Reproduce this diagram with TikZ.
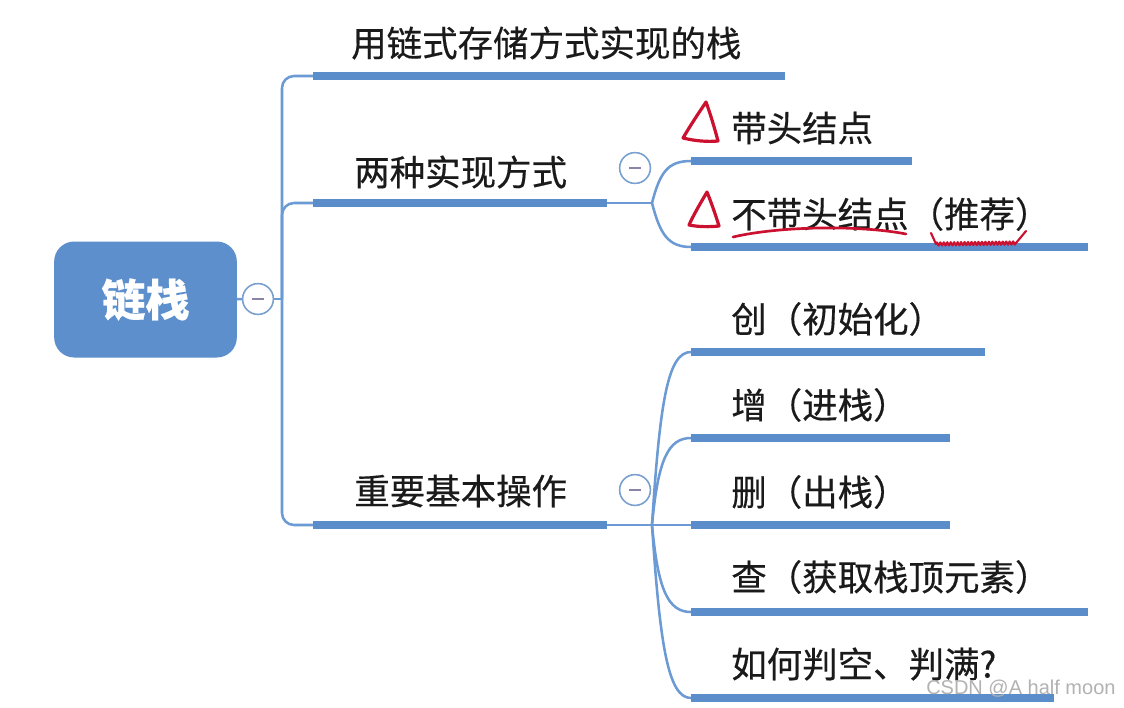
\documentclass[tikz,border=0pt]{standalone}
\usepackage{fontspec}
\setmainfont{Noto Sans CJK SC}[FakeBold=0.4]
\newfontfamily\marksans{Liberation Sans}
\usetikzlibrary{decorations.pathmorphing}

\definecolor{barblue}{RGB}{91,141,203}
\definecolor{lineblue}{RGB}{108,154,212}
\definecolor{rootblue}{RGB}{92,143,204}
\definecolor{knobline}{RGB}{122,160,208}
\definecolor{knobminus}{RGB}{140,132,168}
\definecolor{redink}{RGB}{204,16,48}
\definecolor{inktext}{RGB}{26,26,26}

\tikzset{
  rootbox/.style={fill=rootblue, rounded corners=15pt, minimum width=137pt,
    minimum height=87pt, text=white, font=\fontsize{33}{33}\selectfont\bfseries},
  topic/.style={anchor=west, inner sep=0pt, text=inktext,
    font=\fontsize{26.6}{27}\selectfont},
  bar/.style={barblue, line width=6.4pt},
  link/.style={lineblue, line width=1.9pt},
  knob/.style={circle, draw=knobline, fill=white, line width=1.1pt,
    minimum size=23pt, inner sep=0pt},
  pen/.style={redink, line width=2.4pt, line cap=round, line join=round},
}

\begin{document}
\begin{tikzpicture}[x=0.75pt,y=-0.75pt]
  % Help lines
  %\draw[help lines,step=50,gray!50] (0,0) grid (1124,707);
  \useasboundingbox[fill=white] (0,0) rectangle (1124,707);
  \node[rootbox] (root) at (145.5,299.5) {链栈};
  \node[knob] (k0) at (258,299) {};
  \node[knob] (k2) at (635,168) {};
  \node[knob] (k3) at (635,490) {};
  \coordinate (hub) at (282,299);
  \coordinate (f2) at (652,203);
  \coordinate (f3) at (652,525);
  % bar ends
  \coordinate (b1s) at (313,76);  \coordinate (b1e) at (785,76);
  \coordinate (b2s) at (313,203); \coordinate (b2e) at (607,203);
  \coordinate (b3s) at (313,525); \coordinate (b3e) at (607,525);
  \coordinate (s1s) at (691,161); \coordinate (s1e) at (912,161);
  \coordinate (s2s) at (691,247); \coordinate (s2e) at (1088,247);
  \coordinate (o1s) at (691,352); \coordinate (o1e) at (985,352);
  \coordinate (o2s) at (691,438); \coordinate (o2e) at (950,438);
  \coordinate (o3s) at (691,525); \coordinate (o3e) at (950,525);
  \coordinate (o4s) at (691,612); \coordinate (o4e) at (1088,612);
  \coordinate (o5s) at (691,698); \coordinate (o5e) at (1054,698);

  \draw[link] (root) -- (k0);
  \draw[link] (k0) -- (hub);
  \foreach \b in {b1s, b2s, b3s}
    \draw[link, rounded corners=9pt] (hub) |- (\b);
  \draw[link] (b2e) -- (f2);
  \draw[link] (f2) .. controls (660,172) and (668,161) .. (s1s);
  \draw[link] (f2) .. controls (660,234) and (668,247) .. (s2s);
  \draw[link] (b3e) -- (o3s);
  \draw[link] (f3) .. controls (660,400) and (668,352) .. (o1s);
  \draw[link] (f3) .. controls (658,460) and (668,438) .. (o2s);
  \draw[link] (f3) .. controls (658,590) and (668,612) .. (o4s);
  \draw[link] (f3) .. controls (660,645) and (668,698) .. (o5s);

  \foreach \b in {b1, b2, b3, s1, s2, o1, o2, o3, o4, o5}
    \draw[bar] (\b s) -- (\b e);
  \foreach \k in {k0, k2, k3}{
    \node[knob] at (\k) {};
    \draw[knobminus, line width=1.5pt] ([xshift=-4.5pt]\k.center) -- ([xshift=4.5pt]\k.center);
  }

  \node[topic] (t1) at (351,43) {用链式存储方式实现的栈};
  \node[topic] (t2) at (354,172) {两种实现方式};
  \node[topic] (t3) at (354,491) {重要基本操作};
  \node[topic] (s1) at (731,128) {带头结点};
  \node[topic] (s2) at (731,214) {不带头结点（推荐）};
  \node[topic] (o1) at (731,319) {创（初始化）};
  \node[topic] (o2) at (731,405) {增（进栈）};
  \node[topic] (o3) at (731,492) {删（出栈）};
  \node[topic] (o4) at (731,577) {查（获取栈顶元素）};
  \node[topic] (o5) at (731,664) {如何判空、判满?};
  \node[anchor=west, inner sep=0pt, text=gray!60,
    font=\marksans\fontsize{15}{15}\selectfont] (mark) at (926,689) {CSDN @A half moon};

  % red pen marks
  \draw[pen] (706,102) .. controls (698,114) and (690,126) .. (683,138)
    .. controls (695,141) and (708,142) .. (718,141)
    .. controls (714,126) and (710,113) .. (706,102);
  \draw[pen] (707,192) .. controls (700,204) and (694,214) .. (689,225)
    .. controls (699,227) and (710,227) .. (719,226)
    .. controls (715,213) and (711,202) .. (707,192);
  \draw[pen, line width=2pt] (733,237) .. controls (780,226) and (860,225) .. (906,234);
  \draw[pen, line width=1.6pt] (931,233) -- (936,244);
  \draw[pen, line width=1.6pt, decorate,
    decoration={zigzag, amplitude=1.2pt, segment length=2.6pt}] (936,244) -- (1016,243);
  \draw[pen, line width=1.6pt] (1016,243) -- (1026,231);
\end{tikzpicture}
\end{document}
